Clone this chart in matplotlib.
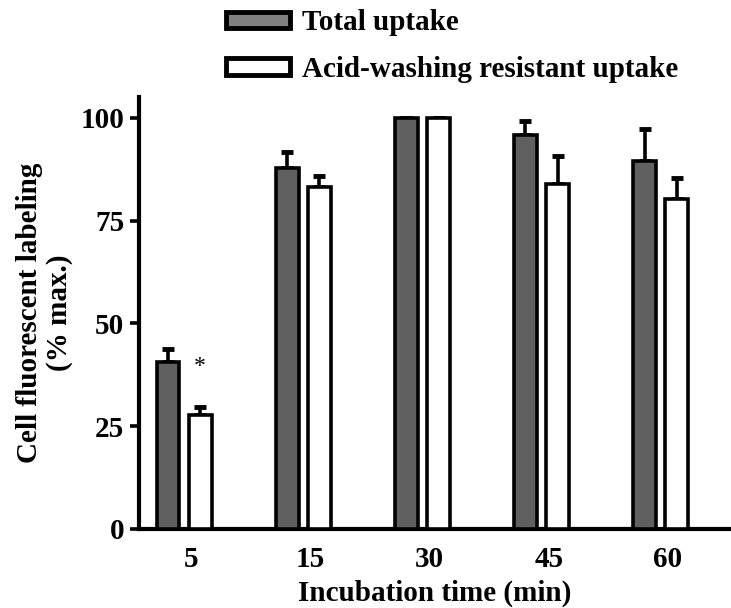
import numpy as np
import matplotlib.pyplot as plt
from matplotlib.patches import Patch

plt.rcParams['font.family'] = 'Liberation Serif'
plt.rcParams['font.weight'] = 'bold'

times = ['5', '15', '30', '45', '60']
total = [40.5, 87.8, 100, 95.9, 89.5]
total_err = [3.2, 3.9, 0, 3.4, 7.8]
acid = [27.8, 83.2, 100, 83.9, 80.2]
acid_err = [1.9, 2.7, 0, 6.8, 5.2]

x = np.arange(len(times))
w = 0.19
off = 0.135
dark = '#606060'

fig = plt.figure(figsize=(7.31, 6.08), dpi=100)
ax = fig.add_axes([0.19, 0.13, 0.81, 0.71])

ax.bar(x - off, total, w, color=dark, edgecolor='black', linewidth=2.6, zorder=3)
ax.bar(x + off, acid, w, color='white', edgecolor='black', linewidth=2.6, zorder=3)
ax.errorbar(x - off, total, yerr=[np.zeros(5), total_err], fmt='none', ecolor='black',
            elinewidth=2.6, capsize=4.5, capthick=3.5, zorder=2)
ax.errorbar(x + off, acid, yerr=[np.zeros(5), acid_err], fmt='none', ecolor='black',
            elinewidth=2.6, capsize=4.5, capthick=3.5, zorder=2)

ax.text(x[0] + off, 39.5, '*', ha='center', va='center', fontsize=17, fontweight='normal')

ax.set_xlim(-0.38, 4.59)
ax.set_ylim(0, 105)
ax.set_yticks([0, 25, 50, 75, 100])
ax.set_xticks(x + 0.06)
ax.set_xticklabels(times)
ax.tick_params(axis='x', length=0, pad=12, labelsize=21)
ax.tick_params(axis='y', length=6.5, width=2.6, labelsize=21, pad=4)
for s in ['top', 'right']:
    ax.spines[s].set_visible(False)
for s in ['left', 'bottom']:
    ax.spines[s].set_linewidth(3)

ax.set_xlabel('Incubation time (min)', fontsize=21, fontweight='bold', labelpad=5)
ax.set_ylabel('Cell fluorescent labeling\n(% max.)', fontsize=21, fontweight='bold',
              labelpad=5, linespacing=1.15)

handles = [Patch(facecolor='#808080', edgecolor='black', linewidth=3.5),
           Patch(facecolor='white', edgecolor='black', linewidth=3.5)]
fig.legend(handles, ['Total uptake', 'Acid-washing resistant uptake'],
           loc='upper left', bbox_to_anchor=(0.2995, 0.997), frameon=False,
           prop={'size': 21, 'weight': 'bold'}, handlelength=2.2, handleheight=0.48,
           handletextpad=0.4, labelspacing=0.68, borderpad=0.25, borderaxespad=0)

fig.savefig('out.png', dpi=100)
